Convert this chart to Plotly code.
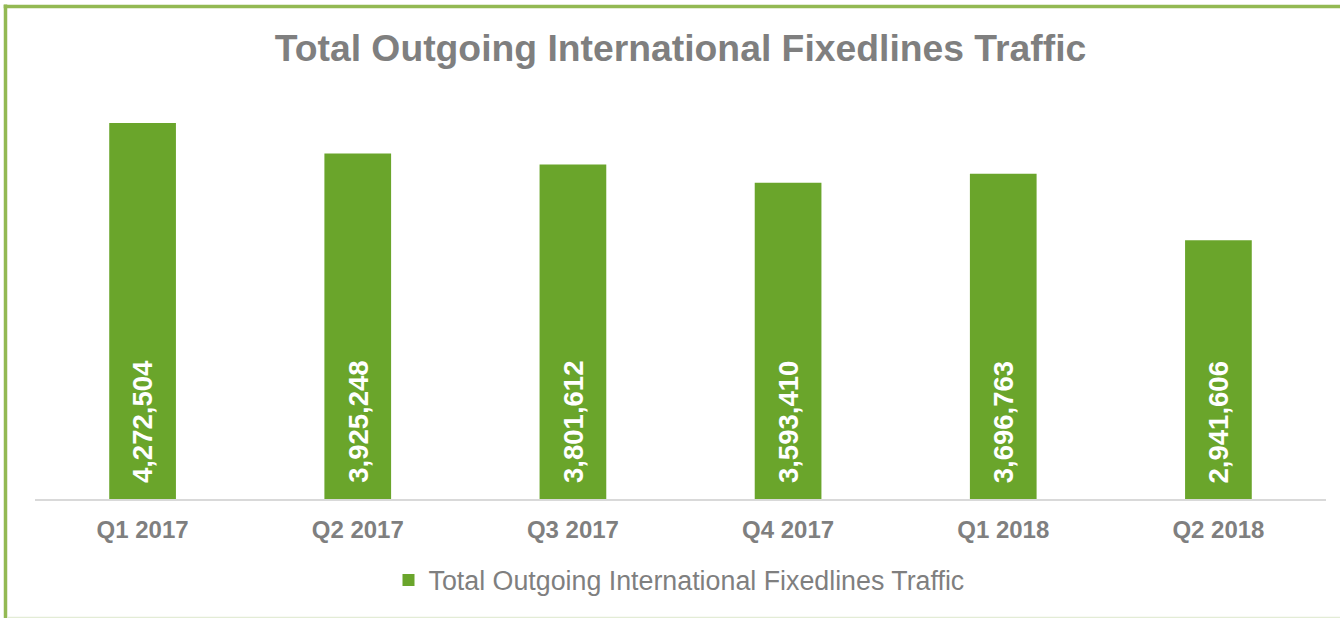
import plotly.graph_objects as go

categories = ["Q1 2017", "Q2 2017", "Q3 2017", "Q4 2017", "Q1 2018", "Q2 2018"]
traffic = [4272504, 3925248, 3801612, 3593410, 3696763, 2941606]
series_name = "Total Outgoing International Fixedlines Traffic"
chart_title = "Total Outgoing International Fixedlines Traffic"

BAR = "#6aa52b"
GRAY = "#7f7f7f"
BORDER = "#93b953"
FONT = "Liberation Sans, Arial, sans-serif"

W, H = 1340, 618
ML, MR, MT, MB = 35, 14, 59, 119
PW = W - ML - MR
PH = H - MT - MB


def px_x(x):
    return (x - ML) / PW


def px_y(y):
    return (H - MB - y) / PH


fig = go.Figure()
fig.add_trace(go.Bar(
    x=categories, y=traffic, name=series_name,
    marker=dict(color=BAR, line=dict(width=0)),
    width=0.31, showlegend=True,
))

for c, v in zip(categories, traffic):
    fig.add_annotation(
        x=c, y=0, xref="x", yref="y", text=f"{v:,}",
        textangle=-90, showarrow=False, yanchor="bottom", xanchor="center",
        yshift=14, font=dict(family=FONT, size=27.5, color="white", weight="bold"),
    )

# outer border (left, top) and faint bottom line
fig.add_shape(type="line", xref="paper", yref="paper",
              x0=px_x(5.5), x1=px_x(5.5), y0=px_y(4.5), y1=px_y(640),
              line=dict(color=BORDER, width=3.5))
fig.add_shape(type="line", xref="paper", yref="paper",
              x0=px_x(3.7), x1=px_x(1360), y0=px_y(6.5), y1=px_y(6.5),
              line=dict(color=BORDER, width=3.5))
fig.add_shape(type="line", xref="paper", yref="paper",
              x0=px_x(7), x1=px_x(1360), y0=px_y(617.5), y1=px_y(617.5),
              line=dict(color="#e3ecd6", width=1.5))

fig.update_layout(
    width=W, height=H,
    margin=dict(l=ML, r=MR, t=MT, b=MB),
    paper_bgcolor="white", plot_bgcolor="white",
    title=dict(text=chart_title, x=0.5, xref="paper", xanchor="center",
               y=1 - 48 / H, yref="container", yanchor="middle",
               font=dict(family=FONT, size=37.3, color=GRAY, weight="bold")),
    font=dict(family=FONT, color=GRAY),
    xaxis=dict(showline=True, linecolor="#d9d9d9", linewidth=1.5, showgrid=False,
               ticks="", ticklabelstandoff=8,
               tickfont=dict(family=FONT, size=24, color=GRAY, weight="bold")),
    yaxis=dict(range=[0, 5000000], visible=False, showgrid=False, zeroline=False),
    legend=dict(orientation="h", x=px_x(679), xanchor="center", y=px_y(580), yanchor="middle",
                font=dict(family=FONT, size=26.8, color=GRAY)),
    bargap=0.69,
)

fig.write_html("out.html", config={"displayModeBar": False},
               post_script="document.body.style.margin='0';document.body.style.overflow='hidden';")
